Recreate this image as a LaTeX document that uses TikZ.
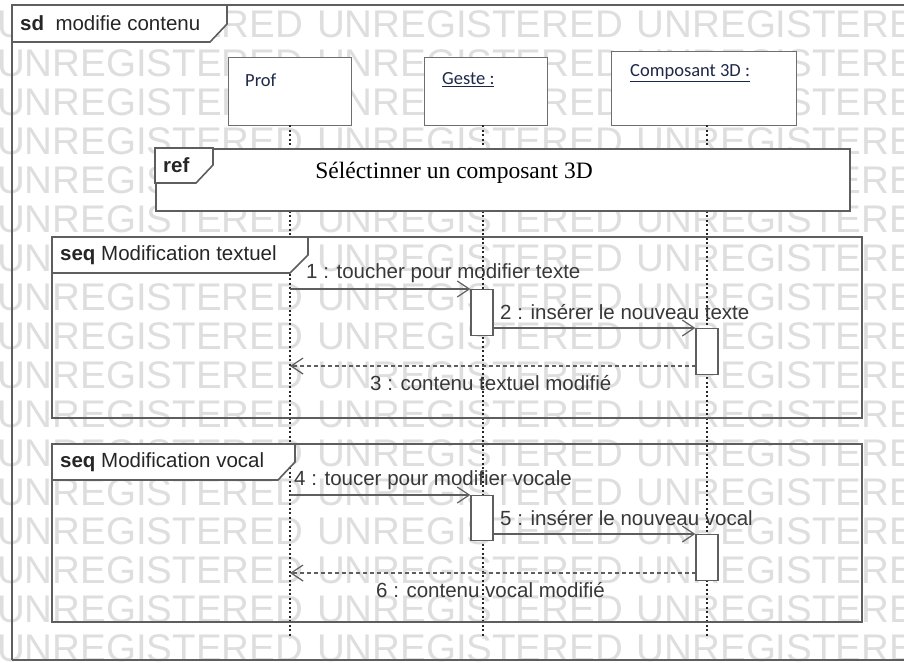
\documentclass[tikz,border=0pt]{standalone}
\usepackage{fontspec}
\setmainfont{Liberation Sans}
\newfontfamily\headfont{Carlito}
\newfontfamily\serfont{Liberation Serif}
\usepackage{pdfrender}
\usetikzlibrary{arrows.meta}

\definecolor{framegray}{HTML}{5E5E5E}
\definecolor{headgray}{HTML}{6E6E6E}
\definecolor{textgray}{HTML}{383838}
\definecolor{headtext}{HTML}{1E2848}
\definecolor{wmgray}{HTML}{DEDEDE}

\newcommand{\lblfont}{\fontsize{20.5}{24}\selectfont}
\newcommand{\wmfont}{\fontsize{38.5}{44}\selectfont}
\newcommand{\wmword}{UNREGISTERED}
\newcommand{\wmtext}{\textpdfrender{TextRenderingMode=Stroke,LineWidth=0.6}{\wmword\hspace{14pt}\wmword\hspace{14pt}\wmword}}

\begin{document}
\begin{tikzpicture}[x=1pt,y=-1pt,
  wm/.style={font=\wmfont, text=wmgray, inner sep=0pt, anchor=west},
  frameline/.style={draw=framegray, line width=1.6pt},
  tabbox/.style={frameline, fill=white, line join=miter},
  headbox/.style={draw=headgray, line width=1.4pt, fill=white, inner sep=0pt, anchor=north west},
  headlbl/.style={font=\headfont\fontsize{18.5}{22}\selectfont, text=headtext, inner sep=0pt, anchor=west},
  lifeline/.style={draw=black!85, line width=1.4pt, dash pattern=on 2pt off 2.5pt},
  actbox/.style={draw=framegray, fill=white, line width=1.4pt, inner sep=0pt, minimum width=22pt, anchor=north},
  msg/.style={draw=framegray, line width=1.4pt, -{Straight Barb[length=12pt,width=16pt,line width=1.2pt]}},
  ret/.style={msg, dash pattern=on 4pt off 3pt},
  lbl/.style={font=\lblfont, text=textgray, inner sep=0pt, anchor=west},
  tablbl/.style={font=\lblfont, text=black!85, inner sep=0pt, anchor=west},
]
\useasboundingbox (0,0) rectangle (904,662);
\clip (0,0) rectangle (904,662);
\fill[white] (0,0) rectangle (904,662);

% background stamp rows
\foreach \r in {0,...,16}{
  \node[wm] at (-3,{24+39*\r}) {\color{wmgray}\wmtext};
}

% outer sd frame with its name tab
\draw[frameline] (12,660) -- (12,5) -- (920,5);
\draw[frameline] (12,660) -- (920,660);
\draw[tabbox] (12,5) -- (227,5) -- (227,24) -- (210,42) -- (12,42) -- cycle;
\node[tablbl] (sdname) at (20,23) {\textbf{sd}\ \ modifie contenu};

% lifeline heads
\node[headbox, minimum width=123pt, minimum height=68pt] (prof) at (228,57) {};
\node[headbox, minimum width=123pt, minimum height=68pt] (geste) at (424,57) {};
\node[headbox, minimum width=185pt, minimum height=74pt] (comp) at (611,51) {};
\node[headlbl] (proft) at (245,80) {Prof};
\node[headlbl] (gestet) at (442,80) {\underline{Geste :}};
\node[headlbl] (compt) at (630,73) {\underline{Composant 3D :}};

% lifelines
\coordinate (profT) at (290,125);  \coordinate (profB) at (290,638);
\coordinate (gesteT) at (483,125); \coordinate (gesteB) at (483,638);
\coordinate (compT) at (707,125);  \coordinate (compB) at (707,638);
\draw[lifeline] (profT) -- (profB);
\draw[lifeline] (gesteT) -- (gesteB);
\draw[lifeline] (compT) -- (compB);

% interaction use
\node[draw=framegray, line width=1.6pt, fill=white, inner sep=0pt, anchor=north west,
      minimum width=694pt, minimum height=62pt] (refbox) at (155,148) {};
\draw[tabbox] (refbox.north west) -- (213,148) -- (213,165) -- (196,183) -- (155,183) -- cycle;
\node[tablbl] (reft) at (163,165) {\textbf{ref}};
\node[font=\serfont\fontsize{23.5}{26}\selectfont, text=black, inner sep=0pt] (refname) at (454,173)
  {Séléctinner un composant 3D};

% first combined fragment
\draw[frameline] (52,237) rectangle (862,418);
\draw[tabbox] (52,237) -- (308,237) -- (308,255) -- (290,273) -- (52,273) -- cycle;
\node[tablbl] (seq1t) at (60,255) {\textbf{seq}\ Modification textuel};

\node[actbox, minimum height=46pt] (a1) at (482,289) {};
\node[actbox, minimum height=46pt] (a2) at (707,328) {};
\coordinate (m1s) at (290,289);
\coordinate (m3s) at (696,366);
\coordinate (m3e) at (290,366);
\draw[msg] (m1s) -- (a1.north west);
\draw[msg] (a1.east |- a2.north) -- (a2.north west);
\draw[ret] (m3s) -- (m3e);
\node[lbl] (l1) at (306,273) {1 : toucher pour modifier texte};
\node[lbl] (l2) at (500,312) {2 : insérer le nouveau texte};
\node[lbl] (l3) at (370,383) {3 : contenu textuel modifié};

% second combined fragment
\draw[frameline] (52,444) rectangle (862,622);
\draw[tabbox] (52,444) -- (295,444) -- (295,462) -- (278,480) -- (52,480) -- cycle;
\node[tablbl] (seq2t) at (60,462) {\textbf{seq}\ Modification vocal};

\node[actbox, minimum height=45pt] (a3) at (482,495) {};
\node[actbox, minimum height=46pt] (a4) at (707,534) {};
\coordinate (m4s) at (290,495);
\coordinate (m6s) at (696,573);
\coordinate (m6e) at (290,573);
\draw[msg] (m4s) -- (a3.north west);
\draw[msg] (a3.east |- a4.north) -- (a4.north west);
\draw[ret] (m6s) -- (m6e);
\node[lbl] (l4) at (294,480) {4 : toucer pour modifier vocale};
\node[lbl] (l5) at (500,518) {5 : insérer le nouveau vocal};
\node[lbl] (l6) at (376,590) {6 : contenu vocal modifié};
\end{tikzpicture}
\end{document}
